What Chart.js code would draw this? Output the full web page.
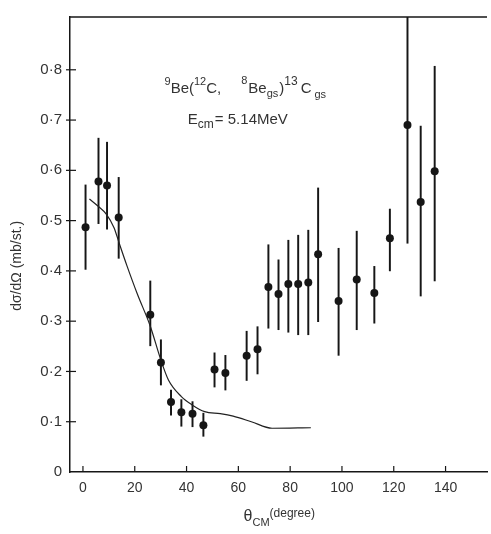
<!DOCTYPE html>
<html>
<head>
<meta charset="utf-8">
<script src="https://cdn.jsdelivr.net/npm/chart.js@4.4.1/dist/chart.umd.min.js"></script>
<style>
  html, body { margin: 0; padding: 0; background: #fff; }
  #wrap { width: 491px; height: 534px; }
</style>
</head>
<body>
<div id="wrap"><canvas id="xsChart" width="491" height="534"></canvas></div>
<script>
const thetaCM = [1, 6, 9.3, 13.8, 26, 30.1, 34, 38, 42.3, 46.5, 50.8, 55, 63.2, 67.4, 71.6, 75.5, 79.3, 83.1, 87, 90.8, 98.7, 105.7, 112.5, 118.5, 125.3, 130.4, 135.8];
const sigma = [0.487, 0.578, 0.570, 0.506, 0.313, 0.218, 0.139, 0.119, 0.116, 0.093, 0.204, 0.197, 0.231, 0.244, 0.368, 0.354, 0.374, 0.374, 0.377, 0.433, 0.340, 0.383, 0.356, 0.465, 0.690, 0.537, 0.598];
const sigmaLow = [0.403, 0.494, 0.483, 0.425, 0.251, 0.173, 0.113, 0.091, 0.090, 0.071, 0.169, 0.163, 0.182, 0.195, 0.286, 0.283, 0.278, 0.273, 0.273, 0.299, 0.232, 0.283, 0.296, 0.400, 0.455, 0.350, 0.380];
const sigmaHigh = [0.571, 0.664, 0.656, 0.586, 0.380, 0.263, 0.163, 0.144, 0.140, 0.117, 0.237, 0.232, 0.280, 0.289, 0.452, 0.422, 0.461, 0.471, 0.481, 0.565, 0.445, 0.479, 0.409, 0.523, 0.95, 0.688, 0.807];

// calculated curve
const calcTheta = [2.5, 6, 9, 12, 14, 17, 21, 26, 30, 33, 38, 42, 47, 53, 58, 65, 73, 88];
const calcSigma = [0.543, 0.528, 0.513, 0.486, 0.455, 0.41, 0.354, 0.29, 0.224, 0.183, 0.150, 0.134, 0.120, 0.116, 0.111, 0.100, 0.087, 0.088];

// axis ticks
const xTicks = [0, 20, 40, 60, 80, 100, 120, 140];
const xTickLabels = ['0', '20', '40', '60', '80', '100', '120', '140'];
const yTicks = [0, 0.1, 0.2, 0.3, 0.4, 0.5, 0.6, 0.7, 0.8];
const yTickLabels = ['0', '0·1', '0·2', '0·3', '0·4', '0·5', '0·6', '0·7', '0·8'];

const ink = '#161616';
const textInk = '#333';
const family = '"Liberation Sans", Arial, sans-serif';

function drawRuns(ctx, runs, x, y) {
  runs.forEach(r => {
    ctx.font = `${r.size}px ${family}`;
    ctx.fillText(r.t, x, y + (r.dy || 0));
    x += ctx.measureText(r.t).width + (r.gap || 0);
  });
}

const frameAndText = {
  id: 'frameAndText',
  afterDraw(chart) {
    const { ctx, chartArea: a } = chart;
    const x = chart.scales.x, y = chart.scales.y;
    ctx.save();
    ctx.strokeStyle = ink;

    // top line of the frame
    ctx.lineWidth = 1.5;
    ctx.beginPath();
    ctx.moveTo(a.left, a.top);
    ctx.lineTo(a.right, a.top);
    ctx.stroke();

    // inward tick marks
    ctx.lineWidth = 1.2;
    x.ticks.forEach(t => {
      const px = x.getPixelForValue(t.value);
      ctx.beginPath();
      ctx.moveTo(px, a.bottom);
      ctx.lineTo(px, a.bottom - 6);
      ctx.stroke();
    });
    y.ticks.forEach(t => {
      if (t.value === 0) return;
      const py = y.getPixelForValue(t.value);
      ctx.beginPath();
      ctx.moveTo(a.left - 4, py);
      ctx.lineTo(a.left + 6, py);
      ctx.stroke();
    });

    ctx.fillStyle = textInk;
    ctx.textBaseline = 'alphabetic';
    ctx.textAlign = 'left';

    // reaction label
    drawRuns(ctx, [
      { t: '9', size: 11, dy: -8 },
      { t: 'Be', size: 15 },
      { t: '(', size: 15 },
      { t: '12', size: 11, dy: -8 },
      { t: 'C,', size: 15, gap: 20 },
      { t: '8', size: 11, dy: -9, gap: 1 },
      { t: 'Be', size: 15 },
      { t: 'gs', size: 11, dy: 4, gap: 1 },
      { t: ')', size: 15 },
      { t: '13', size: 12, dy: -8, gap: 3 },
      { t: 'C', size: 15, gap: 3 },
      { t: 'gs', size: 11, dy: 5 }
    ], x.getPixelForValue(31.5), y.getPixelForValue(0.753));

    drawRuns(ctx, [
      { t: 'E', size: 15 },
      { t: 'cm', size: 12, dy: 4, gap: 1 },
      { t: '= 5.14MeV', size: 15 }
    ], x.getPixelForValue(40.5), y.getPixelForValue(0.693));

    // x axis title
    drawRuns(ctx, [
      { t: 'θ', size: 16 },
      { t: 'CM', size: 11, dy: 5 },
      { t: '(degree)', size: 12, dy: -4 }
    ], x.getPixelForValue(62), a.bottom + 49);

    // y axis title
    ctx.translate(17, y.getPixelForValue(0.41));
    ctx.rotate(-Math.PI / 2);
    ctx.textAlign = 'center';
    ctx.textBaseline = 'middle';
    ctx.font = `14px ${family}`;
    ctx.fillText('dσ/dΩ (mb/st.)', 0, 0);

    ctx.restore();
  }
};

const errorBars = thetaCM.map((t, i) => ({ x: t, y: [sigmaLow[i], sigmaHigh[i]] }));
const points = thetaCM.map((t, i) => ({ x: t, y: sigma[i] }));
const curve = calcTheta.map((t, i) => ({ x: t, y: calcSigma[i] }));

new Chart(document.getElementById('xsChart'), {
  type: 'scatter',
  data: {
    datasets: [
      {
        type: 'scatter',
        data: points,
        pointRadius: 4,
        pointBackgroundColor: ink,
        pointBorderWidth: 0,
        order: 1
      },
      {
        type: 'line',
        data: curve,
        borderColor: '#222',
        borderWidth: 1.2,
        pointRadius: 0,
        fill: false,
        cubicInterpolationMode: 'monotone',
        order: 2
      },
      {
        type: 'bar',
        data: errorBars,
        backgroundColor: ink,
        barThickness: 1.3,
        order: 3
      }
    ]
  },
  options: {
    responsive: false,
    animation: false,
    devicePixelRatio: 1,
    layout: { padding: { top: 6, right: -4, left: 0, bottom: 0 } },
    plugins: {
      legend: { display: false },
      tooltip: { enabled: false }
    },
    scales: {
      x: {
        type: 'linear',
        min: -5,
        max: 156,
        offset: false,
        afterBuildTicks: s => { s.ticks = xTicks.map(v => ({ value: v })); },
        afterFit: s => { s.height = 62; },
        grid: { display: false, drawTicks: false, offset: false },
        border: { display: true, color: ink, width: 1.5 },
        ticks: {
          padding: 8,
          color: textInk,
          font: { family: 'Liberation Sans', size: 14 },
          maxRotation: 0,
          callback: v => xTickLabels[xTicks.indexOf(v)]
        }
      },
      y: {
        type: 'linear',
        min: 0,
        max: 0.905,
        afterBuildTicks: s => { s.ticks = yTicks.map(v => ({ value: v })); },
        afterFit: s => { s.width = 70; },
        grid: { display: false, drawTicks: false },
        border: { display: true, color: ink, width: 1.5 },
        ticks: {
          padding: 8,
          color: textInk,
          font: { family: 'Liberation Sans', size: 15 },
          callback: (v, i) => yTickLabels[i]
        }
      }
    }
  },
  plugins: [frameAndText]
});
</script>
</body>
</html>
